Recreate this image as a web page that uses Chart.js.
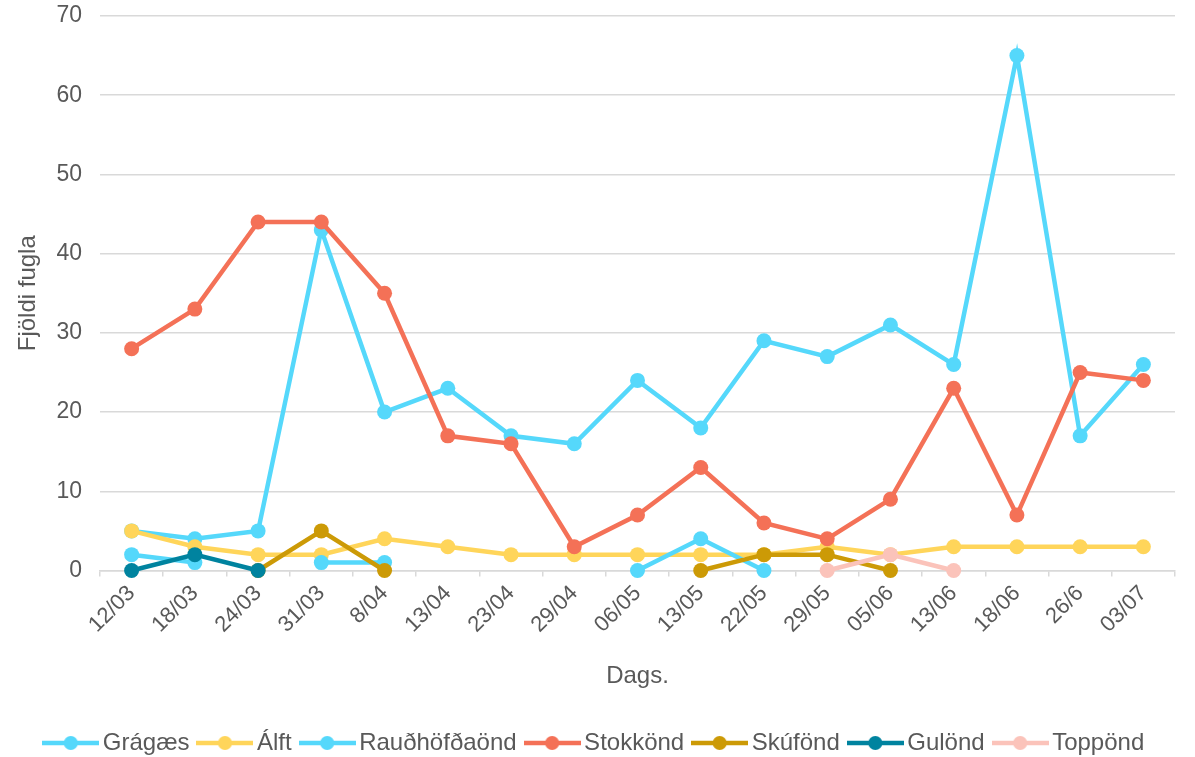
<!DOCTYPE html>
<html>
<head>
<meta charset="utf-8">
<script src="https://cdn.jsdelivr.net/npm/chart.js@4.4.1/dist/chart.umd.min.js"></script>
<style>
  body { margin: 0; background: #fff; }
  #wrap { width: 1195px; height: 757px; }
</style>
</head>
<body>
<div id="wrap"><canvas id="birdChart" width="1195" height="757"></canvas></div>
<script>
// --- gögn ---
const labels = ['12/03', '18/03', '24/03', '31/03', '8/04', '13/04', '23/04', '29/04', '06/05',
  '13/05', '22/05', '29/05', '05/06', '13/06', '18/06', '26/6', '03/07'];

const gragaes = [5, 4, 5, 43, 20, 23, 17, 16, 24, 18, 29, 27, 31, 26, 65, 17, 26];
const alft = [5, 3, 2, 2, 4, 3, 2, 2, 2, 2, 2, 3, 2, 3, 3, 3, 3];
const raudhofdaond = [2, 1, null, 1, 1, null, null, null, 0, 4, 0, null, null, null, null, null, null];
const stokkond = [28, 33, 44, 44, 35, 17, 16, 3, 7, 13, 6, 4, 9, 23, 7, 25, 24];
const skufond = [null, null, 0, 5, 0, null, null, null, null, 0, 2, 2, 0, null, null, null, null];
const gulond = [0, 2, 0, null, null, null, null, null, null, null, null, null, null, null, null, null, null];
const toppond = [null, null, null, null, null, null, null, null, null, null, null, 0, 2, 0, null, null, null];

const yTicks = [0, 10, 20, 30, 40, 50, 60, 70];

const series = [
  { name: 'Grágæs', data: gragaes, color: '#55D8FB' },
  { name: 'Álft', data: alft, color: '#FFD55A' },
  { name: 'Rauðhöfðaönd', data: raudhofdaond, color: '#55D8FB' },
  { name: 'Stokkönd', data: stokkond, color: '#F47157' },
  { name: 'Skúfönd', data: skufond, color: '#CC9A06' },
  { name: 'Gulönd', data: gulond, color: '#00839F' },
  { name: 'Toppönd', data: toppond, color: '#FBC3BA' }
];

const textColor = '#595959';
const gridColor = '#d9d9d9';
const fontFamily = 'Liberation Sans, Arial, sans-serif';

// lína + punktur fyrir skýringar (eins og í Excel)
function legendIcon(color) {
  const c = document.createElement('canvas');
  c.width = 57; c.height = 16;
  const g = c.getContext('2d');
  g.strokeStyle = color;
  g.lineWidth = 4.5;
  g.beginPath();
  g.moveTo(0, 8); g.lineTo(57, 8);
  g.stroke();
  g.fillStyle = color;
  g.beginPath();
  g.arc(28.5, 8, 7, 0, Math.PI * 2);
  g.fill();
  return c;
}

const ctx = document.getElementById('birdChart').getContext('2d');

new Chart(ctx, {
  type: 'line',
  data: {
    labels: labels,
    datasets: series.map((s, i) => ({
      label: s.name,
      data: s.data,
      borderColor: s.color,
      backgroundColor: s.color,
      borderWidth: 4.5,
      pointRadius: 7.5,
      pointHoverRadius: 7.5,
      pointBorderWidth: 0,
      tension: 0,
      spanGaps: false,
      clip: false, // punktar á 0 sjást heilir
      order: series.length - i // seinni raðir ofan á
    }))
  },
  options: {
    responsive: false,
    animation: false,
    layout: { autoPadding: false, padding: { top: 1, right: 10, left: 10, bottom: -8 } },
    plugins: {
      tooltip: { enabled: false },
      legend: {
        position: 'bottom',
        labels: {
          usePointStyle: true,
          pointStyleWidth: 40,
          color: textColor,
          font: { family: fontFamily, size: 24 },
          padding: 15.5,
          sort: (a, b) => a.datasetIndex - b.datasetIndex,
          generateLabels: function (chart) {
            const items = Chart.defaults.plugins.legend.labels.generateLabels(chart);
            items.forEach(it => {
              it.pointStyle = legendIcon(series[it.datasetIndex].color);
            });
            return items;
          }
        }
      }
    },
    scales: {
      y: {
        min: 0,
        max: 70,
        afterBuildTicks: function (scale) {
          scale.ticks = yTicks.map(v => ({ value: v }));
        },
        afterFit: function (scale) {
          scale.width = 90;
          scale.paddingTop = 16;
          scale.paddingBottom = 0;
        },
        ticks: {
          color: textColor,
          padding: 18,
          font: { family: fontFamily, size: 23 }
        },
        grid: { color: gridColor, lineWidth: 1.5, drawTicks: false },
        border: { display: false },
        title: {
          display: true,
          text: 'Fjöldi fugla',
          color: textColor,
          padding: { top: 4, bottom: 0 },
          font: { family: fontFamily, size: 24 }
        }
      },
      x: {
        offset: true,
        afterFit: function (scale) {
          scale.height = 145;
          scale.paddingRight = 20;
        },
        ticks: {
          minRotation: 45,
          maxRotation: 45,
          color: textColor,
          padding: 4,
          font: { family: fontFamily, size: 22 }
        },
        grid: {
          offset: true,
          drawOnChartArea: false,
          drawTicks: true,
          tickLength: 6,
          color: gridColor,
          lineWidth: 1.5
        },
        border: { display: true, color: gridColor, width: 1.5 },
        title: {
          display: true,
          text: 'Dags.',
          color: textColor,
          padding: { top: 4, bottom: 25 },
          font: { family: fontFamily, size: 24 }
        }
      }
    }
  }
});
</script>
</body>
</html>
